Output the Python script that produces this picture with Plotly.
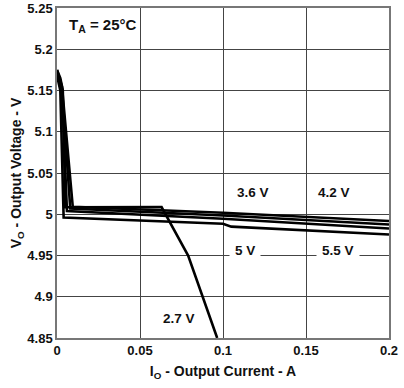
import plotly.graph_objects as go

# Data (Output current in A, output voltage in V)
x_27 = [0, 0.002, 0.0035, 0.005, 0.063, 0.079, 0.0965]
y_27 = [5.175, 5.165, 5.15, 5.0085, 5.0086, 4.95, 4.85]

x_36 = [0, 0.003, 0.0095, 0.1, 0.2]
y_36 = [5.175, 5.155, 5.009, 5.0018, 4.9918]

x_42 = [0, 0.003, 0.008, 0.1, 0.2]
y_42 = [5.172, 5.152, 5.007, 4.9985, 4.9876]

x_50 = [0, 0.003, 0.006, 0.1, 0.2]
y_50 = [5.17, 5.15, 5.004, 4.9945, 4.9827]

x_55 = [0, 0.002, 0.004, 0.1, 0.105, 0.2]
y_55 = [5.168, 5.15, 4.996, 4.9885, 4.985, 4.9755]

series = [("2.7 V", x_27, y_27), ("3.6 V", x_36, y_36), ("4.2 V", x_42, y_42),
          ("5 V", x_50, y_50), ("5.5 V", x_55, y_55)]

x_ticks = [0, 0.05, 0.1, 0.15, 0.2]
y_ticks = [4.85, 4.9, 4.95, 5.0, 5.05, 5.1, 5.15, 5.2, 5.25]

FONT = "Liberation Sans"
TXT = "#111"

fig = go.Figure()
for name, xs, ys in series:
    fig.add_trace(go.Scatter(x=xs, y=ys, mode="lines", name=name,
                             line=dict(color="black", width=2.6),
                             showlegend=False, cliponaxis=True))

ann_font = dict(family=FONT, size=13.5, color=TXT)
annotations = [
    dict(x=0.0277, y=5.229, text="<b>T<sub>A</sub> = 25°C</b>", showarrow=False,
         font=dict(family=FONT, size=15, color=TXT)),
    dict(x=0.1181, y=5.0267, text="<b>3.6 V</b>", showarrow=False, font=ann_font),
    dict(x=0.1669, y=5.0267, text="<b>4.2 V</b>", showarrow=False, font=ann_font),
    dict(x=0.1130, y=4.9561, text="<b>5 V</b>", showarrow=False, font=ann_font,
         bgcolor="white", borderpad=5),
    dict(x=0.1693, y=4.9561, text="<b>5.5 V</b>", showarrow=False, font=ann_font,
         bgcolor="white", borderpad=5),
    dict(x=0.0735, y=4.8736, text="<b>2.7 V</b>", showarrow=False, font=ann_font),
]

fig.update_layout(
    width=404, height=388,
    margin=dict(l=57, r=15, t=8, b=50),
    paper_bgcolor="white", plot_bgcolor="white",
    annotations=annotations,
    font=dict(family=FONT, color=TXT),
)
fig.update_xaxes(range=[0, 0.2], tickvals=x_ticks,
                 ticktext=["<b>%g</b>" % v for v in x_ticks],
                 showgrid=True, gridcolor="#444", gridwidth=1,
                 showline=True, linecolor="#777", linewidth=1.5, mirror=True,
                 zeroline=False, ticks="", tickfont=dict(size=13, family=FONT),
                 automargin=False,
                 title=dict(text="<b>I<sub>O</sub> - Output Current - A</b>",
                            font=dict(size=14, family=FONT), standoff=9))
fig.update_yaxes(range=[4.85, 5.25], tickvals=y_ticks,
                 ticktext=["<b>%g</b>" % v for v in y_ticks],
                 showgrid=True, gridcolor="#444", gridwidth=1,
                 showline=True, linecolor="#777", linewidth=1.5, mirror=True,
                 zeroline=False, ticks="", tickfont=dict(size=13, family=FONT),
                 automargin=False,
                 title=dict(text="<b>V<sub>O</sub> - Output Voltage - V</b>",
                            font=dict(size=14, family=FONT), standoff=2))

fig.write_html("out.html", config={"displayModeBar": False},
               post_script="document.body.style.margin='0';document.body.style.padding='0';")
